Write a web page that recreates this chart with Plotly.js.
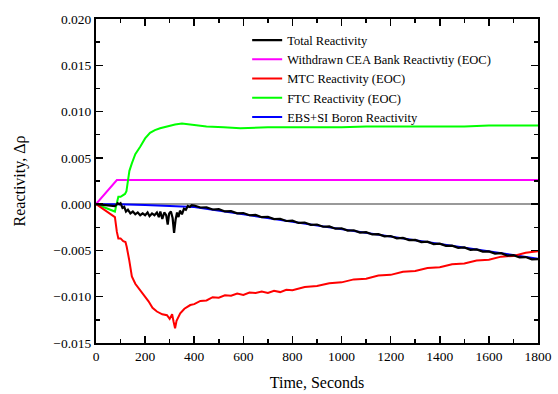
<!DOCTYPE html>
<html>
<head>
<meta charset="utf-8">
<script src="https://cdn.plot.ly/plotly-3.0.1.min.js"></script>
<style>html,body{margin:0;padding:0;background:#fff;}#chart{width:558px;height:394px;}</style>
</head>
<body>
<div id="chart"></div>
<script>
// Series names
const seriesNames = ["Total Reactivity", "Withdrawn CEA Bank Reactivtiy (EOC)", "MTC Reactivity (EOC)", "FTC Reactivity (EOC)", "EBS+SI Boron Reactivity"];

// Total Reactivity
const totalT = [0,40,77,82,88,95,100,108,115,122,130,140,150,160,170,180,190,200,210,218,228,238,248,256,262,270,278,286,292,298,305,312,318,324,330,336,342,350,358,366,374,382,390,
  400,425,450,475,500,525,550,575,600,625,650,675,700,725,750,775,800,825,850,875,900,925,950,975,1000,1025,1050,1075,1100,1125,1150,1175,1200,1225,1250,1275,1300,1325,1350,1375,1400,1425,1450,1475,1500,1525,1550,1575,1600,1625,1650,1675,1700,1725,1750,1775,1800];
const totalV = [0,-0.0001,-0.0002,-0.0001,0.0001,0.0000,0.0001,-0.0004,-0.0003,-0.0008,-0.0006,-0.0010,-0.0008,-0.0011,-0.0009,-0.0012,-0.0010,-0.0012,-0.0009,-0.0013,-0.0010,-0.0012,-0.0009,-0.0014,-0.0008,-0.0016,-0.0009,-0.0012,-0.0022,-0.0010,-0.0008,-0.0015,-0.0031,-0.0017,-0.0009,-0.0014,-0.0007,-0.0011,-0.0005,-0.0006,-0.0002,-0.0003,-0.0001,
  -0.00015,-0.00036,-0.00035,-0.00058,-0.00055,-0.00079,-0.00076,-0.00099,-0.00096,-0.00120,-0.00117,-0.00141,-0.00137,-0.00161,-0.00158,-0.00182,-0.00179,-0.00203,-0.00199,-0.00224,-0.00220,-0.00244,-0.00241,-0.00265,-0.00261,-0.00286,-0.00282,-0.00307,-0.00303,-0.00327,-0.00324,-0.00348,-0.00344,-0.00369,-0.00365,-0.00389,-0.00386,-0.00410,-0.00406,-0.00431,-0.00427,-0.00451,-0.00448,-0.00472,-0.00468,-0.00493,-0.00489,-0.00513,-0.00510,-0.00534,-0.00530,-0.00555,-0.00551,-0.00576,-0.00572,-0.00596,-0.00593];

// Withdrawn CEA Bank Reactivity
const ceaT = [0, 85, 1800];
const ceaV = [0, 0.0026, 0.0026];

// MTC Reactivity
const mtcT = [0,77,85,91,100,111,120,125,135,146,160,180,200,214,230,248,270,289,300,310,316,322,328,335,343,360,384,
  400,425,450,475,500,525,550,575,600,625,650,675,700,725,750,775,800,850,900,950,1000,1050,1100,1150,1200,1250,1300,1350,1400,1450,1500,1550,1600,1650,1700,1750,1800];
const mtcV = [0,-0.0014,-0.0030,-0.0037,-0.0037,-0.0040,-0.0041,-0.0046,-0.0060,-0.0078,-0.0086,-0.0093,-0.0100,-0.0105,-0.0112,-0.0116,-0.0119,-0.0120,-0.0124,-0.0119,-0.0127,-0.0134,-0.0126,-0.0122,-0.0118,-0.0113,-0.0109,
  -0.0108,-0.01045,-0.0104,-0.01005,-0.0101,-0.00985,-0.0099,-0.00965,-0.0098,-0.00955,-0.0096,-0.00945,-0.0096,-0.00935,-0.0095,-0.00925,-0.0093,-0.00895,-0.00885,-0.00855,-0.00845,-0.00813,-0.00805,-0.00772,-0.00764,-0.00731,-0.00723,-0.00690,-0.00682,-0.00649,-0.00641,-0.00608,-0.00600,-0.00567,-0.00559,-0.00526,-0.00510];

// FTC Reactivity
const ftcT = [0,77,82,91,100,118,124,130,136,146,160,180,200,220,240,261,290,322,350,384,450,520,588,700,800,900,1000,1100,1200,1300,1400,1500,1600,1700,1800];
const ftcV = [0,-0.0008,-0.0002,0.0008,0.0008,0.0011,0.0014,0.0026,0.0036,0.0044,0.0054,0.0062,0.0071,0.0077,0.0080,0.0082,0.0084,0.0086,0.0087,0.0086,0.0084,0.0083,0.0082,0.0083,0.0083,0.0083,0.0083,0.0084,0.0084,0.0084,0.0084,0.0084,0.0085,0.0085,0.0085];

// EBS+SI Boron Reactivity
const boronT = [0,90,200,300,370,400,600,800,1000,1200,1400,1600,1800];
const boronV = [0,0,-0.0001,-0.0002,-0.0003,-0.0003,-0.0011,-0.0019,-0.0027,-0.0035,-0.0043,-0.0051,-0.0059];

const font = "Liberation Serif";

const traces = [
  {x: boronT, y: boronV, name: seriesNames[4], mode: "lines", line: {color: "#0000ff", width: 2}, legendrank: 5},
  {x: ceaT, y: ceaV, name: seriesNames[1], mode: "lines", line: {color: "#ff00ff", width: 2}, legendrank: 2},
  {x: ftcT, y: ftcV, name: seriesNames[3], mode: "lines", line: {color: "#00ff00", width: 2}, legendrank: 4},
  {x: mtcT, y: mtcV, name: seriesNames[2], mode: "lines", line: {color: "#ff0000", width: 2}, legendrank: 3},
  {x: totalT, y: totalV, name: seriesNames[0], mode: "lines", line: {color: "#000000", width: 2.2}, legendrank: 1}
];

const axisCommon = {
  showgrid: false,
  showline: true, linecolor: "#000", linewidth: 2,
  mirror: "ticks",
  ticks: "inside", ticklen: 7, tickwidth: 1.5, tickcolor: "#000",
  tickfont: {family: font, size: 13.5, color: "#000"}
};

const layout = {
  width: 558, height: 394,
  margin: {l: 96, r: 20, t: 19, b: 51},
  paper_bgcolor: "#fff", plot_bgcolor: "#fff",
  font: {family: font, color: "#000"},
  showlegend: true,
  legend: {
    x: 0.342, y: 0.98, xanchor: "left", yanchor: "top",
    bgcolor: "rgba(0,0,0,0)", borderwidth: 0,
    font: {family: font, size: 12.5, color: "#000"},
    traceorder: "normal"
  },
  xaxis: Object.assign({}, axisCommon, {
    range: [0, 1800], tick0: 0, dtick: 200,
    minor: {ticks: "inside", ticklen: 4, dtick: 100, tickcolor: "#000", tickwidth: 1.5},
    zeroline: false,
    title: {text: "Time, Seconds", font: {family: font, size: 16, color: "#000"}, standoff: 14}
  }),
  yaxis: Object.assign({}, axisCommon, {
    range: [-0.015, 0.020], tick0: 0, dtick: 0.005, tickformat: ".3f",
    minor: {ticks: "inside", ticklen: 4, dtick: 0.0025, tickcolor: "#000", tickwidth: 1.5},
    zeroline: true, zerolinecolor: "#999", zerolinewidth: 1.5,
    title: {text: "Reactivity, Δρ", font: {family: font, size: 16, color: "#000"}, standoff: 24}
  })
};

Plotly.newPlot("chart", traces, layout, {displayModeBar: false, staticPlot: true});
</script>
</body>
</html>
